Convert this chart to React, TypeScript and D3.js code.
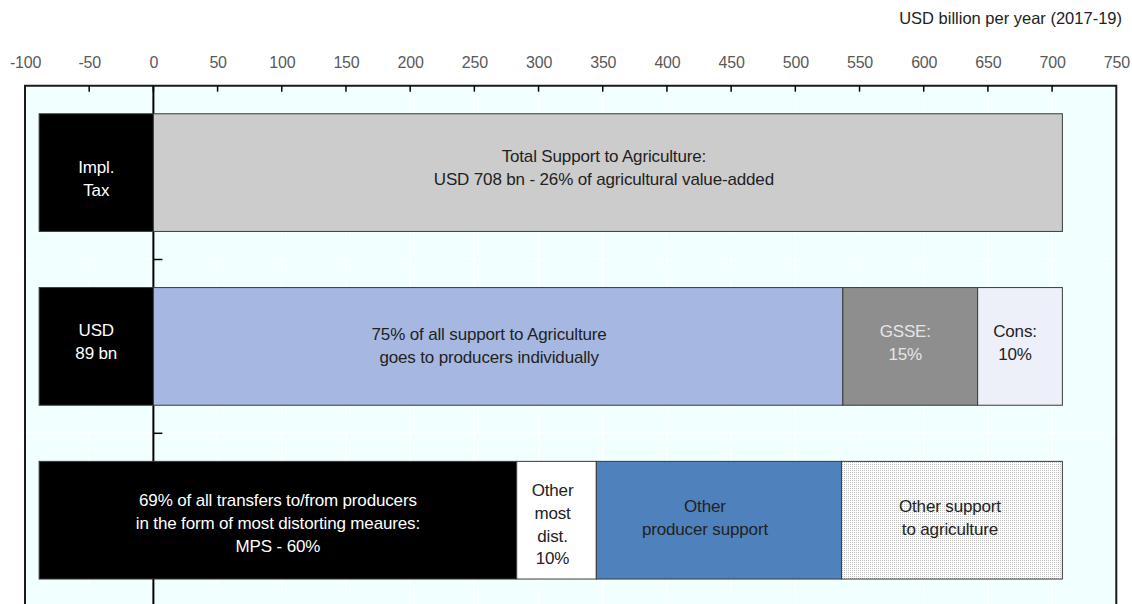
import React, { useEffect, useRef } from "react";
import * as d3 from "d3";

// rows (top to bottom)
const rowNames = ["Total support", "Support by recipient", "Producer support by type"];

// each row is a stack of segment widths (USD bn), starting at the implicit tax
const stackStart = -89;
const row1Values = [89, 708];
const row2Values = [89, 537, 105, 66];
const row3Values = [372, 62, 191, 172];

const row1Labels = [["Impl.", "Tax"], ["Total Support to Agriculture:", "USD 708 bn - 26% of agricultural value-added"]];
const row2Labels = [["USD", "89 bn"], ["75% of all support to Agriculture", "goes to producers individually"], ["GSSE:", "15%"], ["Cons:", "10%"]];
const row3Labels = [
  ["69% of all transfers to/from producers", "in the form of most distorting meaures:", "MPS - 60%"],
  ["Other", "most", "dist.", "10%"],
  ["Other", "producer support"],
  ["Other support", "to agriculture"],
];

const tickValues = d3.range(-100, 751, 50);
const unitLabel = "USD billion per year (2017-19)";

// styling
const row1Fills = ["#000000", "#cccccc"];
const row2Fills = ["#000000", "#a6b8e1", "#8e8e8e", "#edf0f8"];
const row3Fills = ["#000000", "#ffffff", "#4f81bd", "url(#dots)"];
const row1Text = ["#ffffff", "#222222"];
const row2Text = ["#ffffff", "#222222", "#e6e6e6", "#222222"];
const row3Text = ["#ffffff", "#222222", "#222222", "#222222"];
// small label nudges (px) as placed in the original text boxes
const row1Nudge = [[0, 6], [-4, -5]];
const row2Nudge = [[0, -5], [-9, -1], [-5, -4], [-5, -4]];
const row3Nudge = [[0, 3], [-4, 4], [-14, -3], [-2, -3]];

const W = 1132;
const H = 604;

const Chart = () => {
  const svgRef = useRef<SVGSVGElement | null>(null);

  useEffect(() => {
    const svg = d3.select(svgRef.current);
    svg.selectAll("*").remove();

    const x = d3.scaleLinear().domain([-100, 750]).range([25, 1116.3]);
    const y = d3
      .scaleBand<string>()
      .domain(rowNames)
      .range([85.7, 607.1])
      .paddingInner(0.323)
      .paddingOuter(0.1615);
    const step = y.step();
    const plotTop = 85.7;
    const plotBottom = 607.1;

    const defs = svg.append("defs");
    const pat = defs
      .append("pattern")
      .attr("id", "dots")
      .attr("width", 2)
      .attr("height", 2)
      .attr("patternUnits", "userSpaceOnUse");
    pat.append("rect").attr("width", 2).attr("height", 2).attr("fill", "#ffffff");
    pat.append("rect").attr("width", 1).attr("height", 1).attr("fill", "#c2c2c2");

    // plot background
    svg
      .append("rect")
      .attr("x", x(-100))
      .attr("y", plotTop)
      .attr("width", x(750) - x(-100))
      .attr("height", plotBottom - plotTop)
      .attr("fill", "#f2ffff");

    // white grid
    svg
      .append("g")
      .selectAll("line")
      .data(tickValues.slice(1, -1))
      .join("line")
      .attr("x1", (d) => x(d))
      .attr("x2", (d) => x(d))
      .attr("y1", plotTop)
      .attr("y2", plotBottom)
      .attr("stroke", "#ffffff")
      .attr("stroke-width", 1.5);
    const bounds = rowNames.slice(1).map((r) => (y(r) as number) - (step * y.paddingInner()) / 2);
    svg
      .append("g")
      .selectAll("line")
      .data(bounds)
      .join("line")
      .attr("x1", x(-100))
      .attr("x2", x(750))
      .attr("y1", (d) => d)
      .attr("y2", (d) => d)
      .attr("stroke", "#ffffff")
      .attr("stroke-width", 1.5);

    // zero (category) axis, behind the bars
    svg
      .append("line")
      .attr("x1", x(0))
      .attr("x2", x(0))
      .attr("y1", plotTop)
      .attr("y2", plotBottom)
      .attr("stroke", "#000")
      .attr("stroke-width", 2);
    svg
      .append("g")
      .selectAll("line")
      .data(bounds)
      .join("line")
      .attr("x1", x(0))
      .attr("x2", x(0) + 9)
      .attr("y1", (d) => d)
      .attr("y2", (d) => d)
      .attr("stroke", "#000")
      .attr("stroke-width", 1.5);

    const rows = [
      { name: rowNames[0], values: row1Values, labels: row1Labels, fills: row1Fills, text: row1Text, nudge: row1Nudge },
      { name: rowNames[1], values: row2Values, labels: row2Labels, fills: row2Fills, text: row2Text, nudge: row2Nudge },
      { name: rowNames[2], values: row3Values, labels: row3Labels, fills: row3Fills, text: row3Text, nudge: row3Nudge },
    ];

    const lineH = 22.8;
    rows.forEach((row) => {
      const ends = d3.cumsum(row.values).map((v) => v + stackStart);
      const segs = row.values.map((v, i) => ({
        x0: i ? ends[i - 1] : stackStart,
        x1: ends[i],
        fill: row.fills[i],
        label: row.labels[i],
        color: row.text[i],
        nudge: row.nudge[i],
      }));
      const y0 = y(row.name) as number;
      const bh = y.bandwidth();
      const g = svg.append("g");
      g.selectAll("rect")
        .data(segs)
        .join("rect")
        .attr("x", (d) => x(d.x0))
        .attr("y", y0)
        .attr("width", (d) => x(d.x1) - x(d.x0))
        .attr("height", bh)
        .attr("fill", (d) => d.fill)
        .attr("stroke", "#3a3a3a")
        .attr("stroke-width", 1);
      segs.forEach((s) => {
        const cx = (x(s.x0) + x(s.x1)) / 2 + s.nudge[0];
        const cy = y0 + bh / 2 + s.nudge[1];
        const n = s.label.length;
        const t = g
          .append("text")
          .attr("text-anchor", "middle")
          .attr("fill", s.color)
          .attr("font-size", 17)
          .attr("letter-spacing", -0.15);
        s.label.forEach((line, k) => {
          t.append("tspan")
            .attr("x", cx)
            .attr("y", cy + (k - (n - 1) / 2) * lineH)
            .attr("dy", "0.35em")
            .text(line);
        });
      });
    });

    // frame
    svg
      .append("path")
      .attr("d", `M${x(-100)},${plotBottom}V${plotTop}H${x(750)}V${plotBottom}`)
      .attr("fill", "none")
      .attr("stroke", "#1a1a1a")
      .attr("stroke-width", 2);

    // top axis
    const axis = d3
      .axisTop(x)
      .tickValues(tickValues)
      .tickFormat((d) => String(d))
      .tickSize(0)
      .tickPadding(0);
    const ag = svg
      .append("g")
      .attr("transform", `translate(0,${plotTop})`)
      .call(axis);
    ag.select(".domain").remove();
    ag.selectAll("text")
      .attr("y", -18)
      .attr("fill", "#595959")
      .attr("font-size", 16)
      .attr("letter-spacing", -0.2)
      .attr("font-family", "Liberation Sans, Arial, sans-serif");
    svg
      .append("g")
      .selectAll("line")
      .data(tickValues.slice(1, -1))
      .join("line")
      .attr("x1", (d) => x(d))
      .attr("x2", (d) => x(d))
      .attr("y1", plotTop)
      .attr("y2", plotTop + 6)
      .attr("stroke", "#000")
      .attr("stroke-width", 1.5);

    svg
      .append("text")
      .attr("x", 1122)
      .attr("y", 24)
      .attr("text-anchor", "end")
      .attr("fill", "#222")
      .attr("font-size", 16.5)
      .text(unitLabel);
  }, []);

  return (
    <svg
      ref={svgRef}
      width={W}
      height={H}
      style={{ position: "absolute", left: 0, top: 0, background: "#fff" }}
      fontFamily="Liberation Sans, Arial, sans-serif"
    />
  );
};

export default function App() {
  return <Chart />;
}
